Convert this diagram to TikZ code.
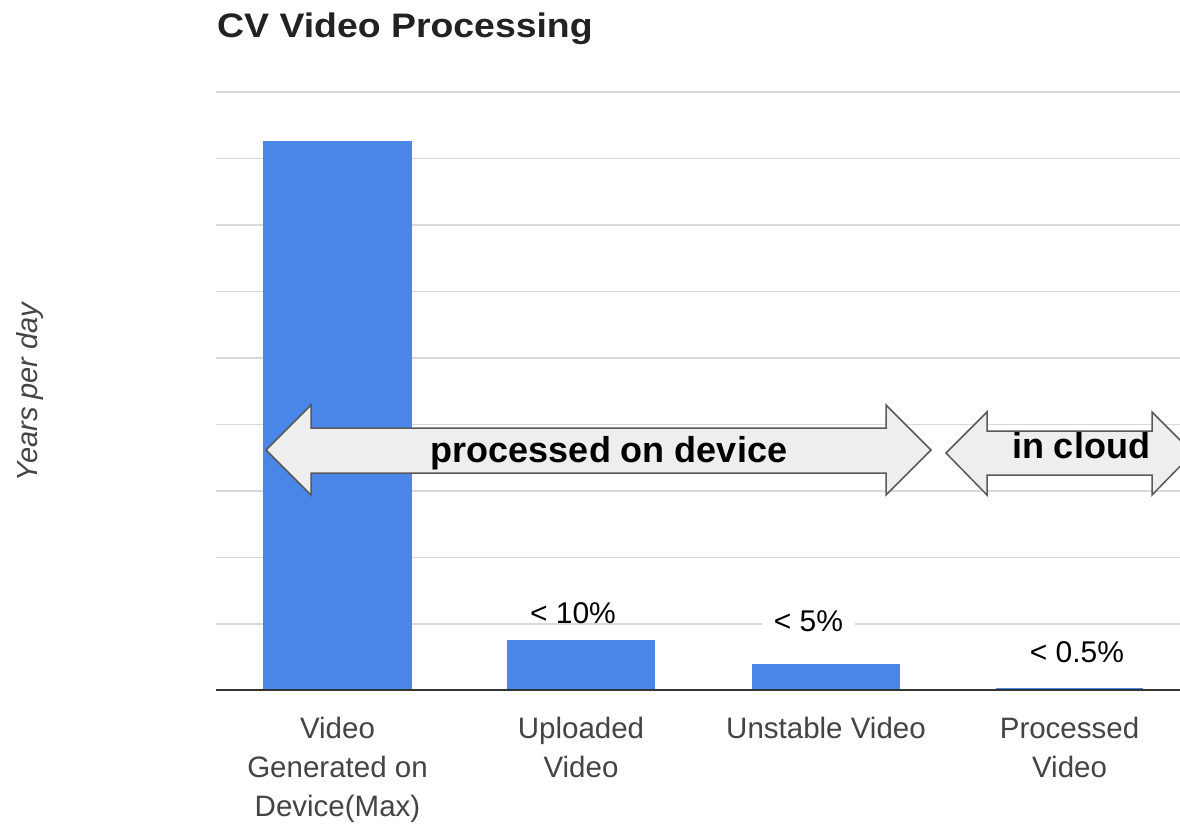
\documentclass[tikz,border=0pt]{standalone}
\usepackage{fontspec}
\setmainfont{Liberation Sans}
\usepackage{graphicx}
\definecolor{barblue}{HTML}{4A86E8}
\definecolor{gridgray}{HTML}{D9D9D9}
\definecolor{axisgray}{HTML}{333333}
\definecolor{labelgray}{HTML}{444444}
\definecolor{arrowfill}{HTML}{EEEEEE}
\definecolor{arrowline}{HTML}{595959}
\definecolor{titleblack}{HTML}{222222}
\begin{document}
\begin{tikzpicture}[x=1pt,y=-1pt,
  gridline/.style={draw=gridgray, line width=1.5pt},
  axisline/.style={draw=axisgray, line width=2pt},
  bar/.style={fill=barblue},
  bigarrow/.style={fill=arrowfill, draw=arrowline, line width=1.5pt, line join=miter},
  cat/.style={font=\fontsize{29.5}{39}\selectfont, text=labelgray, align=center, anchor=base, inner sep=0pt},
  pct/.style={font=\fontsize{30}{36}\selectfont, text=black, anchor=base, inner sep=0pt},
  arrowtext/.style={font=\bfseries\fontsize{36}{40}\selectfont, text=black, anchor=base, inner sep=0pt}]
\useasboundingbox (0,0) rectangle (1180,824);
\clip (0,0) rectangle (1180,824);
\fill[white] (0,0) rectangle (1180,824);

% title
\node[anchor=base west, inner sep=0pt, font=\bfseries\fontsize{34}{40}\selectfont, text=titleblack] (title) at (217,38) {\scalebox{1.1}[1]{CV Video Processing}};

% y axis label
\node[rotate=90, inner sep=0pt, font=\itshape\fontsize{29}{34}\selectfont, text=labelgray] (ylabel) at (30,392) {Years per day};

% grid
\foreach \gy in {92,158.5,225,291.5,358,424.5,491,557.5,624}
  \draw[gridline] (216,\gy) -- (1180,\gy);

% bars
\fill[bar] (263,141) rectangle (412,690);
\fill[bar] (507,640) rectangle (655,690);
\fill[bar] (752,664) rectangle (900,690);
\fill[bar] (996,687.5) rectangle (1143,690);

% axis
\draw[axisline] (216,690) -- (1180,690);

% percentage labels
\node[pct] (p1) at (573,623) {< 10\%};
\node[pct, fill=white, inner xsep=12pt, inner ysep=6pt] (p2) at (808.5,631) {< 5\%};
\node[pct] (p3) at (1077,662) {< 0.5\%};

% category labels (base anchor = last line's baseline)
\node[cat] (c1) at (337.5,816) {Video\\Generated on\\Device(Max)};
\node[cat] (c2) at (581,777) {Uploaded\\Video};
\node[cat] (c3) at (826,738) {Unstable Video};
\node[cat] (c4) at (1069.5,777) {Processed\\Video};

% double arrows
\draw[bigarrow] (266,450) -- (311,405) -- (311,428) -- (886,428) -- (886,405)
  -- (931,450) -- (886,495) -- (886,473) -- (311,473) -- (311,495) -- cycle;
\node[arrowtext] (devtext) at (609,462) {processed on device};

\draw[bigarrow] (946,453) -- (987,412) -- (987,431) -- (1152,431) -- (1152,412)
  -- (1193,453) -- (1152,495) -- (1152,475) -- (987,475) -- (987,495) -- cycle;
\node[arrowtext] (cloudtext) at (1081,458) {in cloud};
\end{tikzpicture}
\end{document}
